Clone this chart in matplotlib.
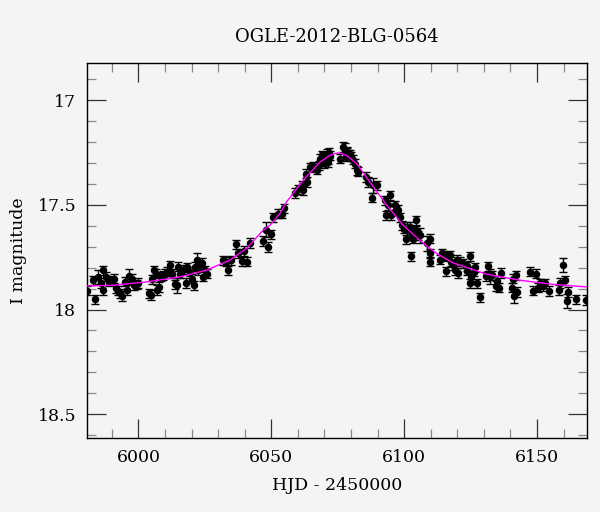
import matplotlib
matplotlib.use('Agg')
import matplotlib.pyplot as plt
from matplotlib.ticker import MultipleLocator

# OGLE photometry
hjd = [5980.7, 5983.0, 5983.7, 5984.9, 5985.9, 5986.7, 5986.7, 5987.8, 5989.0, 5989.9,
       5990.8, 5991.5, 5992.4, 5993.0, 5993.8, 5994.9, 5995.5, 5996.5, 5997.4, 5998.3,
       5999.3, 5999.9, 6003.9, 6004.7, 6005.0, 6005.8, 6006.6, 6007.1, 6007.8, 6008.5,
       6009.1, 6010.0, 6010.8, 6011.8, 6012.5, 6013.7, 6014.6, 6015.0, 6015.6, 6016.8,
       6017.9, 6018.3, 6019.4, 6020.0, 6020.8, 6021.2, 6021.9, 6022.5, 6023.1, 6023.8,
       6024.4, 6025.0, 6025.6, 6031.9, 6032.8, 6033.8, 6034.7, 6036.7, 6037.5, 6038.8,
       6039.7, 6040.7, 6041.9, 6046.7, 6048.0, 6048.8, 6049.7, 6050.7, 6052.6, 6053.9,
       6054.7, 6058.9, 6060.1, 6061.4, 6062.0, 6063.0, 6063.6, 6064.5, 6065.7, 6067.0,
       6068.0, 6068.9, 6069.5, 6070.1, 6070.8, 6071.8, 6071.4, 6075.8, 6076.8, 6077.7,
       6078.5, 6079.6, 6080.6, 6081.4, 6082.1, 6082.7, 6085.6, 6086.4, 6087.7, 6088.3,
       6089.6, 6092.7, 6093.1, 6094.0, 6094.6, 6095.2, 6096.5, 6097.1, 6097.7, 6098.6,
       6099.0, 6099.9, 6100.6, 6101.1, 6102.1, 6102.8, 6103.4, 6104.4, 6104.4, 6105.2,
       6102.5, 6105.9, 6108.4, 6109.7, 6109.7, 6109.7, 6113.4, 6114.1, 6114.9, 6115.7,
       6116.2, 6117.2, 6117.8, 6118.4, 6119.1, 6119.7, 6120.3, 6120.9, 6122.0, 6123.5,
       6123.7, 6124.7, 6124.7, 6125.3, 6126.2, 6126.6, 6127.4, 6128.5, 6130.7, 6131.6,
       6132.2, 6133.2, 6134.5, 6135.0, 6135.5, 6136.6, 6140.4, 6140.8, 6141.4, 6142.0,
       6142.3, 6147.5, 6148.5, 6149.5, 6150.4, 6151.3, 6152.3, 6152.9, 6154.5, 6158.3,
       6158.6, 6159.6, 6160.4, 6161.3, 6161.7, 6164.6, 6168.6,
       6068.5, 6069.5, 6070.5, 6071.5, 6072.0, 6070.0, 6078.0, 6079.0, 6080.0, 6078.5]
mag = [17.911, 17.860, 17.952, 17.844, 17.873, 17.812, 17.907, 17.844, 17.868, 17.860,
       17.852, 17.899, 17.911, 17.923, 17.935, 17.868, 17.907, 17.841, 17.852, 17.884,
       17.879, 17.873, 17.923, 17.931, 17.856, 17.812, 17.828, 17.907, 17.892, 17.844,
       17.836, 17.828, 17.820, 17.788, 17.828, 17.879, 17.885, 17.796, 17.828, 17.809,
       17.873, 17.799, 17.820, 17.852, 17.884, 17.796, 17.764, 17.812, 17.793, 17.777,
       17.844, 17.812, 17.828, 17.764, 17.772, 17.812, 17.764, 17.689, 17.732, 17.769,
       17.720, 17.772, 17.682, 17.672, 17.618, 17.701, 17.641, 17.560, 17.541, 17.541,
       17.517, 17.443, 17.426, 17.406, 17.430, 17.350, 17.390, 17.321, 17.315, 17.331,
       17.310, 17.263, 17.271, 17.287, 17.255, 17.252, 17.295, 17.278, 17.223, 17.239,
       17.252, 17.258, 17.283, 17.302, 17.334, 17.342, 17.366, 17.390, 17.465, 17.406,
       17.406, 17.478, 17.549, 17.501, 17.454, 17.549, 17.501, 17.525, 17.522, 17.560,
       17.597, 17.613, 17.665, 17.618, 17.605, 17.637, 17.661, 17.573, 17.621, 17.645,
       17.745, 17.645, 17.684, 17.661, 17.732, 17.772, 17.761, 17.732, 17.740, 17.817,
       17.748, 17.740, 17.772, 17.788, 17.812, 17.761, 17.825, 17.772, 17.780, 17.793,
       17.815, 17.745, 17.875, 17.844, 17.820, 17.799, 17.875, 17.942, 17.841, 17.793,
       17.841, 17.836, 17.888, 17.863, 17.895, 17.825, 17.895, 17.852, 17.936, 17.836,
       17.916, 17.820, 17.911, 17.828, 17.895, 17.875, 17.888, 17.875, 17.912, 17.907,
       17.873, 17.788, 17.860, 17.959, 17.916, 17.952, 17.955,
       17.280, 17.290, 17.270, 17.280, 17.265, 17.300, 17.270, 17.260, 17.270, 17.245]
err = [0.022] * len(mag)
for i in (3, 17, 36, 46, 64, 89, 99, 113, 121, 122, 150, 158, 171, 173):
    err[i] = 0.035

# model curve
model_t = [5978.0, 5990.5, 6003.1, 6015.6, 6025.6, 6034.4, 6040.7, 6046.9, 6049.5, 6053.2,
           6055.7, 6062.0, 6068.3, 6072.0, 6074.0, 6075.2, 6076.5, 6078.3, 6082.1, 6087.1,
           6093.4, 6099.6, 6105.9, 6112.2, 6118.4, 6124.7, 6131.0, 6143.5, 6156.0, 6168.6,
           6172.0]
model_m = [17.888, 17.884, 17.868, 17.844, 17.812, 17.764, 17.708, 17.621, 17.597, 17.541,
           17.486, 17.382, 17.295, 17.263, 17.254, 17.252, 17.254, 17.263, 17.302, 17.390,
           17.501, 17.597, 17.669, 17.732, 17.777, 17.804, 17.831, 17.860, 17.880, 17.892,
           17.894]

bg = '#f4f4f4'
plt.rcParams['font.family'] = 'DejaVu Serif'

fig = plt.figure(figsize=(6.0, 5.12), dpi=100, facecolor=bg)
ax = fig.add_axes([0.1458, 0.1447, 0.8325, 0.7328], facecolor=bg)

ax.errorbar(hjd, mag, yerr=err, fmt='o', color='black', ms=4.4, elinewidth=1.0,
            capsize=2.8, capthick=1.0, zorder=2)
ax.plot(model_t, model_m, color='#ff00ff', lw=1.0, zorder=3)

ax.set_xlim(5980.8, 6168.8)
ax.set_ylim(18.614, 16.82)

ax.xaxis.set_major_locator(MultipleLocator(50))
ax.xaxis.set_minor_locator(MultipleLocator(10))
ax.yaxis.set_major_locator(MultipleLocator(0.5))
ax.yaxis.set_minor_locator(MultipleLocator(0.1))
ax.yaxis.set_major_formatter(plt.FuncFormatter(lambda v, p: f'{v:g}'))

ax.tick_params(which='both', direction='in', top=True, right=True, labelsize=12.5)
ax.tick_params(which='major', length=13.5, width=0.9, color='#333333', pad=8)
ax.tick_params(which='minor', length=6.7, width=0.9, color='#888888')
for s in ax.spines.values():
    s.set_linewidth(1.0)

ax.set_xlabel('HJD - 2450000', fontsize=12.5, labelpad=8)
ax.set_ylabel('I magnitude', fontsize=12.5, labelpad=8)
ax.set_title('OGLE-2012-BLG-0564', fontsize=13, pad=15)

fig.savefig('out.png', dpi=100, facecolor=bg)
